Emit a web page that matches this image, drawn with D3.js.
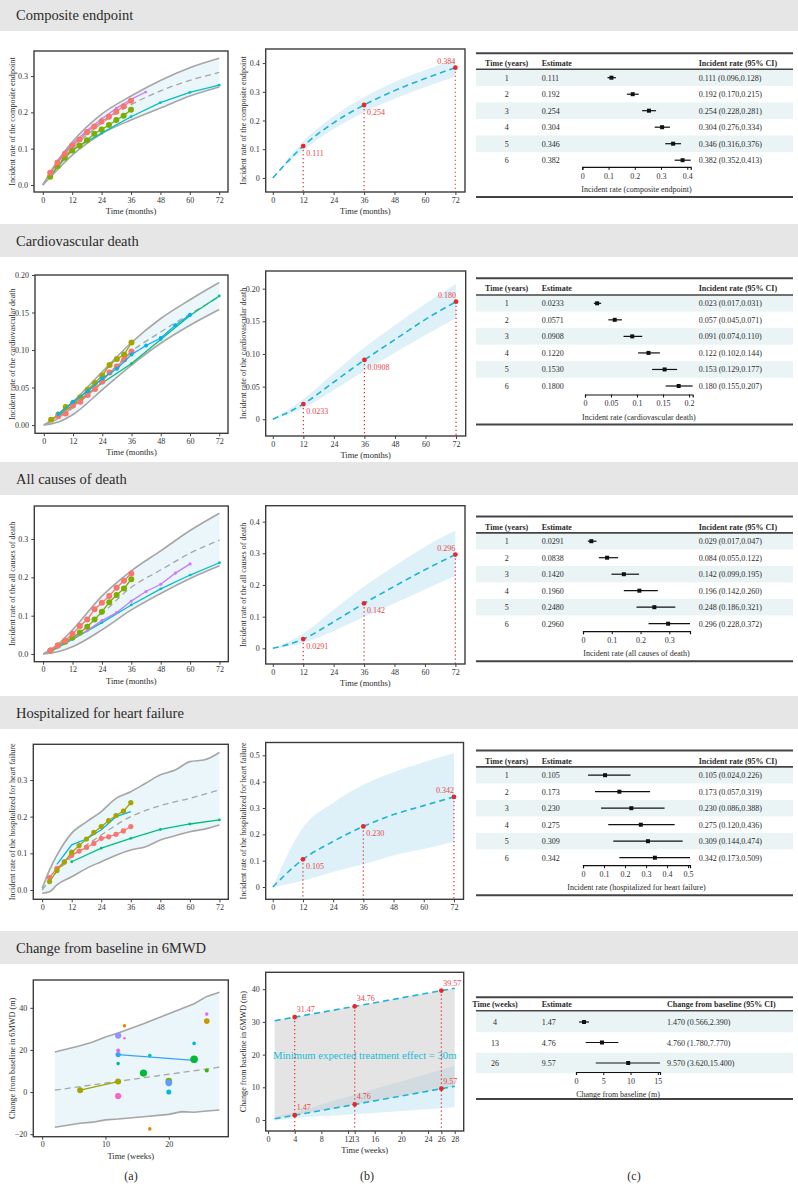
<!DOCTYPE html>
<html>
<head>
<meta charset="utf-8">
<script src="https://cdn.jsdelivr.net/npm/d3@7"></script>
<style>
  body { margin: 0; background: #fff; }
  svg { display: block; }
  text { font-family: "Liberation Serif", "DejaVu Serif", serif; fill: #2b2b2b; }
</style>
</head>
<body>
<script>

/*****************************************/
/*                 DATA                  */
/*****************************************/

const monthTicks = [0, 12, 24, 36, 48, 60, 72];
const bMonths = [0, 12, 24, 36, 48, 60, 72];
const bLabelMonths = [12, 36, 72];
const yearRows = [1, 2, 3, 4, 5, 6];

// composite endpoint - panel (a) [month, rate]
const compUpper = [[0,0],[6,0.066],[12,0.118],[24,0.195],[36,0.245],[48,0.288],[60,0.323],[72,0.349]];
const compLower = [[0,0],[6,0.042],[12,0.082],[24,0.141],[36,0.179],[48,0.212],[60,0.245],[72,0.27]];
const compMid = [[0,0],[6,0.055],[12,0.1],[24,0.17],[36,0.221],[48,0.259],[60,0.288],[72,0.31]];
const compRed = [[3,0.034],[6,0.062],[9,0.086],[12,0.109],[15,0.125],[18,0.145],[21,0.161],[24,0.175],[27,0.188],[30,0.202],[33,0.217],[36,0.232]];
const compGreen = [[3,0.023],[6,0.052],[9,0.075],[12,0.095],[15,0.108],[18,0.123],[21,0.141],[24,0.153],[27,0.165],[30,0.179],[33,0.191],[36,0.207]];
const compPurple = [[3,0.03],[6,0.065],[12,0.112],[18,0.15],[24,0.182],[30,0.211],[36,0.236],[42,0.256]];
const compCyan = [[3,0.025],[12,0.097],[24,0.143],[36,0.188],[48,0.227],[60,0.255],[72,0.275]];
// composite endpoint - panel (b) and table
const compCurve = [0, 0.111, 0.192, 0.254, 0.304, 0.346, 0.384];
const compLabels = ["0.111", "0.254", "0.384"];
const compEst = [0.111, 0.192, 0.254, 0.304, 0.346, 0.382];
const compLo = [0.096, 0.170, 0.228, 0.276, 0.316, 0.352];
const compHi = [0.128, 0.215, 0.281, 0.334, 0.376, 0.413];

// cardiovascular death
const cvUpper = [[0,0],[6,0.013],[12,0.031],[24,0.071],[36,0.11],[48,0.142],[60,0.167],[72,0.19]];
const cvLower = [[0,0],[6,0.004],[12,0.014],[24,0.047],[36,0.08],[48,0.109],[60,0.133],[72,0.154]];
const cvMid = [[0,0],[6,0.009],[12,0.023],[24,0.06],[36,0.098],[48,0.124],[60,0.148],[72,0.171]];
const cvOlive = [[3,0.007],[6,0.014],[9,0.024],[12,0.029],[15,0.037],[18,0.047],[21,0.056],[24,0.066],[27,0.08],[30,0.088],[33,0.094],[36,0.11]];
const cvRed = [[6,0.012],[9,0.0155],[12,0.026],[15,0.031],[18,0.04],[21,0.048],[24,0.058],[27,0.07],[30,0.078],[33,0.0875],[36,0.098]];
const cvGreen = [[6,0.012],[12,0.027],[24,0.056],[36,0.082],[48,0.114],[60,0.146],[72,0.172]];
const cvBlue = [[6,0.0147],[12,0.031],[18,0.045],[24,0.062],[30,0.075],[36,0.094],[42,0.106],[48,0.116],[54,0.133],[60,0.147]];
const cvCurve = [0, 0.0233, 0.0571, 0.0908, 0.122, 0.153, 0.180];
const cvLabels = ["0.0233", "0.0908", "0.180"];
const cvEst = [0.0233, 0.0571, 0.0908, 0.1220, 0.1530, 0.1800];
const cvLo = [0.017, 0.045, 0.074, 0.102, 0.129, 0.155];
const cvHi = [0.031, 0.071, 0.110, 0.144, 0.177, 0.207];

// all causes of death
const acUpper = [[0,0],[6,0.025],[12,0.063],[24,0.151],[36,0.217],[48,0.269],[60,0.322],[72,0.367]];
const acLower = [[0,0],[6,0.006],[12,0.019],[24,0.063],[36,0.115],[48,0.158],[60,0.197],[72,0.23]];
const acMid = [[0,0],[6,0.016],[12,0.042],[24,0.105],[36,0.174],[48,0.219],[60,0.263],[72,0.297]];
const acRed = [[3,0.009],[6,0.022],[9,0.035],[12,0.052],[15,0.073],[18,0.09],[21,0.117],[24,0.134],[27,0.151],[30,0.173],[33,0.191],[36,0.21]];
const acGreen = [[3,0.009],[6,0.022],[9,0.032],[12,0.043],[15,0.056],[18,0.071],[21,0.09],[24,0.11],[27,0.135],[30,0.154],[33,0.171],[36,0.195]];
const acPurple = [[6,0.022],[12,0.041],[18,0.061],[24,0.087],[30,0.108],[36,0.138],[42,0.163],[48,0.182],[54,0.211],[60,0.235]];
const acCyan = [[3,0.008],[12,0.038],[24,0.082],[36,0.128],[48,0.17],[60,0.206],[72,0.238]];
const acCurve = [0, 0.0291, 0.0838, 0.142, 0.196, 0.248, 0.296];
const acLabels = ["0.0291", "0.142", "0.296"];
const acEst = [0.0291, 0.0838, 0.1420, 0.1960, 0.2480, 0.2960];
const acLo = [0.017, 0.055, 0.099, 0.142, 0.186, 0.228];
const acHi = [0.047, 0.122, 0.195, 0.260, 0.321, 0.372];

// hospitalized for heart failure
const hfUpper = [[0,0.004],[3,0.055],[6,0.095],[12,0.155],[18,0.186],[24,0.214],[30,0.25],[36,0.268],[42,0.291],[48,0.314],[54,0.327],[60,0.35],[66,0.355],[72,0.375]];
const hfLower = [[0,-0.009],[3,-0.005],[6,0.014],[12,0.036],[18,0.059],[24,0.077],[30,0.095],[36,0.109],[42,0.118],[48,0.136],[54,0.148],[60,0.159],[66,0.166],[72,0.177]];
const hfMid = [[0,0],[6,0.05],[12,0.09],[24,0.15],[36,0.2],[48,0.23],[60,0.25],[72,0.273]];
const hfOlive = [[3,0.023],[6,0.053],[9,0.076],[12,0.103],[15,0.121],[18,0.139],[21,0.157],[24,0.173],[27,0.189],[30,0.203],[33,0.215],[36,0.238]];
const hfRed = [[3,0.034],[6,0.059],[9,0.077],[12,0.095],[15,0.106],[18,0.116],[21,0.127],[24,0.141],[27,0.145],[30,0.152],[33,0.161],[36,0.173]];
const hfGreen = [[12,0.077],[24,0.114],[36,0.141],[48,0.165],[60,0.18],[72,0.191]];
const hfBlue = [[6,0.07],[12,0.123],[18,0.139],[24,0.164],[30,0.2],[36,0.214]];
const hfCurve = [0, 0.105, 0.173, 0.230, 0.275, 0.309, 0.342];
const hfLabels = ["0.105", "0.230", "0.342"];
const hfEst = [0.105, 0.173, 0.230, 0.275, 0.309, 0.342];
const hfLo = [0.024, 0.057, 0.086, 0.120, 0.144, 0.173];
const hfHi = [0.226, 0.319, 0.388, 0.436, 0.474, 0.509];

// change from baseline in 6MWD - panel (a) [week, metres]
const mwdUpper = [[2,19],[6,22],[8,23.8],[10,26.1],[12,28],[16,32.4],[20,37.2],[22,39.5],[24,41.9],[26,45.4],[28,47.4]];
const mwdLower = [[2,-16.7],[6,-14.8],[8,-14.3],[10,-13.2],[12,-12.8],[16,-11.7],[20,-10.6],[22,-9.3],[24,-9.6],[26,-9],[28,-8.5]];
const mwdMid = [[2,0.9],[28,11.8]];
const mwdOlive = [[6,0.9],[12,5]];
const mwdBlue = [[12,17.8],[24,15]];
const studyWeeks = [13, 12, 13, 12, 12, 17, 16, 20, 20, 20, 12, 17, 24, 24, 26, 26, 26];
const studyValues = [31.5, 26.8, 25.5, 19.7, 13.5, 17.3, 9.0, 5.2, 4.4, 0.0, -1.9, -17.5, 23.1, 15.6, 37.0, 33.7, 10.2];
const studySizes = [20, 60, 10, 25, 20, 20, 80, 70, 70, 40, 60, 20, 20, 90, 20, 50, 25];
// panel (b)
const mwdLineWeeks = [1, 4, 13, 26, 28];
const mwdLine = [0.37, 1.47, 4.76, 9.57, 10.3];
const mwdTarget = [30.37, 31.47, 34.76, 39.57, 40.3];
const mwdBandLo = [-0.2, 0.566, 1.78, 3.62, 3.9];
const mwdBandHi = [0.9, 2.39, 7.77, 15.4, 16.6];
// table
const weekRows = [4, 13, 26];
const mwdEst = [1.47, 4.76, 9.57];
const mwdLo = [0.566, 1.780, 3.620];
const mwdHi = [2.390, 7.770, 15.400];

/*****************************************/
/*                 SETUP                 */
/*****************************************/

const GRAY = "#a6a6a6", RIB_A = "#eaf6fa", RIB_B = "#def1f8", CYAN = "#1db5d1";
const RED = "#e8262c", RED_TXT = "#e8474b", FRAME = "#3c3c3c";

let svg = d3.select("body").append("svg")
    .attr("width", 798)
    .attr("height", 1189);

// SECTION BANDS
const bands = [[-2, 31, "Composite endpoint"], [224, 257, "Cardiovascular death"],
               [462, 495, "All causes of death"], [696, 729, "Hospitalized for heart failure"],
               [931, 964, "Change from baseline in 6MWD"]];

bands.forEach(b => {
    svg.append("rect").attr("x", 0).attr("y", b[0]).attr("width", 798).attr("height", b[1] - b[0])
        .attr("fill", "#e6e6e6");
    svg.append("text").attr("x", 16).attr("y", (b[0] + b[1]) / 2 + 5)
        .attr("font-size", 14.5).text(b[2]);
});

function makeAxes(fr, x, y, xTicks, yTicks, yFmt, xTitle, yTitle, titleX) {
    let xa = svg.append("g")
        .attr("transform", "translate(0," + fr.b + ")")
        .call(d3.axisBottom(x).tickValues(xTicks).tickSize(3).tickPadding(2).tickFormat(d3.format("d")));
    let ya = svg.append("g")
        .attr("transform", "translate(" + fr.l + ",0)")
        .call(d3.axisLeft(y).tickValues(yTicks).tickSize(3).tickPadding(3).tickFormat(yFmt));
    [xa, ya].forEach(a => {
        a.attr("font-family", null).attr("font-size", 8);
        a.select(".domain").remove();
        a.selectAll(".tick line").attr("stroke", "#444");
        a.selectAll(".tick text").style("fill", "#333");
    });
    if (xTitle) {
        svg.append("text").attr("x", (fr.l + fr.r) / 2).attr("y", fr.b + 22)
            .attr("text-anchor", "middle").attr("font-size", 8.5).text(xTitle);
    }
    svg.append("text")
        .attr("transform", "translate(" + titleX + "," + (fr.t + fr.b) / 2 + ") rotate(-90)")
        .attr("text-anchor", "middle").attr("dy", "0.35em").attr("font-size", 8.2).text(yTitle);
    svg.append("rect").attr("x", fr.l).attr("y", fr.t).attr("width", fr.r - fr.l).attr("height", fr.b - fr.t)
        .attr("fill", "none").attr("stroke", FRAME).attr("stroke-width", 1.4);
}

/*****************************************/
/*        PANEL (a): STUDY CURVES        */
/*****************************************/

function drawPanelA(p) {
    let x = d3.scaleLinear().domain(p.xDomain).range([p.fr.l, p.fr.r]);
    let y = d3.scaleLinear().domain(p.yDomain).range([p.fr.b, p.fr.t]);
    let smooth = p.curve || d3.curveMonotoneX;

    let area = d3.area().curve(smooth)
        .x(d => x(d[0]))
        .y0((d, i) => y(p.lower[i][1]))
        .y1(d => y(d[1]));
    svg.append("path").datum(p.upper).attr("d", area).attr("fill", RIB_A);

    let line = d3.line().curve(smooth).x(d => x(d[0])).y(d => y(d[1]));
    [p.upper, p.lower].forEach(s => {
        svg.append("path").datum(s).attr("d", line)
            .attr("fill", "none").attr("stroke", GRAY).attr("stroke-width", 1.6);
    });
    svg.append("path").datum(p.mid).attr("d", line)
        .attr("fill", "none").attr("stroke", GRAY).attr("stroke-width", 1.3).attr("stroke-dasharray", "6,4");

    let straight = d3.line().x(d => x(d[0])).y(d => y(d[1]));
    p.series.forEach(s => {
        svg.append("path").datum(s.data).attr("d", straight)
            .attr("fill", "none").attr("stroke", s.color).attr("stroke-width", 1.3);
        svg.selectAll(null).data(s.data).enter().append("circle")
            .attr("cx", d => x(d[0])).attr("cy", d => y(d[1])).attr("r", s.r)
            .attr("fill", s.color);
    });

    if (p.extra) p.extra(x, y);

    makeAxes(p.fr, x, y, p.xTicks, p.yTicks, p.yFmt, p.xTitle, p.yTitle, 12);
}

/*****************************************/
/*      PANEL (b): POOLED ESTIMATES      */
/*****************************************/

function drawPanelB(p) {
    let x = d3.scaleLinear().domain([-2.8, 75.8]).range([p.fr.l, p.fr.r]);
    let y = d3.scaleLinear().domain(p.yDomain).range([p.fr.b, p.fr.t]);
    let lo = [0].concat(p.lo), hi = [0].concat(p.hi);

    let area = d3.area().curve(d3.curveMonotoneX)
        .x((d, i) => x(bMonths[i]))
        .y0((d, i) => y(lo[i]))
        .y1((d, i) => y(hi[i]));
    svg.append("path").datum(bMonths).attr("d", area).attr("fill", RIB_B);

    let line = d3.line().curve(d3.curveMonotoneX).x((d, i) => x(bMonths[i])).y(d => y(d));
    svg.append("path").datum(p.curve).attr("d", line)
        .attr("fill", "none").attr("stroke", CYAN).attr("stroke-width", 1.6).attr("stroke-dasharray", "6,4");

    bLabelMonths.forEach((m, i) => {
        let v = p.curve[bMonths.indexOf(m)];
        svg.append("line").attr("x1", x(m)).attr("x2", x(m)).attr("y1", y(v)).attr("y2", p.fr.b)
            .attr("stroke", RED).attr("stroke-width", 1.2).attr("stroke-dasharray", "1.2,2.8");
        svg.append("circle").attr("cx", x(m)).attr("cy", y(v)).attr("r", 2.4).attr("fill", RED);
        let last = i === bLabelMonths.length - 1;
        svg.append("text")
            .attr("x", last ? x(m) : x(m) + 3)
            .attr("y", last ? y(v) - 4 : y(v) + 10)
            .attr("text-anchor", last ? "end" : "start")
            .attr("font-size", 8).style("fill", RED_TXT).text(p.labels[i]);
    });

    makeAxes(p.fr, x, y, monthTicks, p.yTicks, p.yFmt, p.xTitle, p.yTitle, 243);
}

/*****************************************/
/*          PANEL (c): FOREST TABLE      */
/*****************************************/

function drawTable(t) {
    let x0 = 476, x1 = 793;
    let rowY = i => t.y0 + t.first + i * t.rowH;
    let n = t.rows.length;
    let fx = d3.scaleLinear().domain([0, d3.max(t.hi)]).range(t.fx);

    t.rows.forEach((r, i) => {
        if (i % 2 === 0) {
            svg.append("rect").attr("x", x0).attr("y", rowY(i) - t.rowH / 2)
                .attr("width", x1 - x0).attr("height", t.rowH).attr("fill", "#eaf4f5");
        }
    });

    svg.append("line").attr("x1", x0).attr("x2", x1).attr("y1", t.y0).attr("y2", t.y0)
        .attr("stroke", "#444").attr("stroke-width", 2);
    svg.append("line").attr("x1", x0).attr("x2", x1).attr("y1", t.y0 + t.headLine).attr("y2", t.y0 + t.headLine)
        .attr("stroke", "#444").attr("stroke-width", 1.6);

    let head = t.y0 + t.headText;
    svg.append("text").attr("x", t.timeX).attr("y", head).attr("text-anchor", "middle")
        .attr("font-size", 8).attr("font-weight", "bold").text(t.heads[0]);
    svg.append("text").attr("x", 541.7).attr("y", head)
        .attr("font-size", 8).attr("font-weight", "bold").text(t.heads[1]);
    svg.append("text").attr("x", t.ciX).attr("y", head)
        .attr("font-size", 8).attr("font-weight", "bold").text(t.heads[2]);

    let f3 = d3.format(".3f");
    t.rows.forEach((r, i) => {
        let cy = rowY(i);
        svg.append("text").attr("x", t.timeX).attr("y", cy + 3).attr("text-anchor", "middle")
            .attr("font-size", 8).text(r);
        svg.append("text").attr("x", 541.7).attr("y", cy + 3)
            .attr("font-size", 8).text(d3.format(t.estFmt)(t.est[i]));
        svg.append("text").attr("x", t.ciX).attr("y", cy + 3).attr("font-size", 8)
            .text(f3(t.est[i]) + " (" + f3(t.lo[i]) + "," + f3(t.hi[i]) + ")");
        svg.append("line").attr("x1", fx(t.lo[i])).attr("x2", fx(t.hi[i])).attr("y1", cy).attr("y2", cy)
            .attr("stroke", "#111").attr("stroke-width", 1.2);
        svg.append("rect").attr("x", fx(t.est[i]) - 2).attr("y", cy - 2).attr("width", 4).attr("height", 4)
            .attr("fill", "#111");
    });

    let ay = rowY(n - 1) + t.axisGap;
    let ax = svg.append("g").attr("transform", "translate(0," + ay + ")")
        .call(d3.axisBottom(fx).tickValues(t.ticks).tickSize(3).tickSizeOuter(3).tickPadding(3)
            .tickFormat(d => d === 0 ? "0" : String(d)));
    ax.attr("font-family", null).attr("font-size", 8);
    ax.select(".domain").attr("stroke", "#111").attr("stroke-width", 1.2);
    ax.selectAll(".tick line").attr("stroke", "#111");
    ax.selectAll(".tick text").style("fill", "#333");

    svg.append("text").attr("x", (t.fx[0] + fx(d3.max(t.hi))) / 2).attr("y", ay + 25)
        .attr("text-anchor", "middle").attr("font-size", 8).text(t.axisTitle);
    svg.append("line").attr("x1", x0).attr("x2", x1).attr("y1", ay + t.bottomGap).attr("y2", ay + t.bottomGap)
        .attr("stroke", "#444").attr("stroke-width", 2);
}

/*****************************************/
/*              DRAW SECTIONS            */
/*****************************************/

const fmt1 = d => d === 0 ? "0.0" : d3.format(".1f")(d);
const fmt2 = d => d3.format(".2f")(d);
const fmtB = d => d === 0 ? "0" : String(d);
const fmtB2 = d => d === 0 ? "0" : d3.format(".2f")(d);
const aX = [-3.6, 75.6];
const yearHeads = ["Time (years)", "Estimate", "Incident rate (95% CI)"];

// 1. COMPOSITE ENDPOINT
drawPanelA({
    fr: {l: 34, r: 228, t: 51, b: 192}, xDomain: aX, yDomain: [-0.0193, 0.369],
    upper: compUpper, lower: compLower, mid: compMid,
    series: [{data: compCyan, color: "#00BFC4", r: 1.4}, {data: compPurple, color: "#C77CFF", r: 1.4},
             {data: compGreen, color: "#7CAE00", r: 3}, {data: compRed, color: "#F8766D", r: 3}],
    xTicks: monthTicks, yTicks: [0, 0.1, 0.2, 0.3], yFmt: fmt1,
    xTitle: "Time (months)", yTitle: "Incident rate of the composite endpoint"
});
drawPanelB({
    fr: {l: 265.7, r: 465, t: 49, b: 192}, yDomain: [-0.049, 0.449],
    curve: compCurve, lo: compLo, hi: compHi, labels: compLabels,
    yTicks: [0, 0.1, 0.2, 0.3, 0.4], yFmt: fmtB,
    xTitle: "Time (months)", yTitle: "Incident rate of the composite endpoint"
});
drawTable({
    y0: 53.3, first: 24.4, rowH: 16.5, headText: 13, headLine: 16, axisGap: 6.7, bottomGap: 30,
    timeX: 506.7, ciX: 698.7, fx: [582.3, 690.7], heads: yearHeads,
    rows: yearRows, est: compEst, lo: compLo, hi: compHi, estFmt: ".3f",
    ticks: [0, 0.1, 0.2, 0.3, 0.4], axisTitle: "Incident rate (composite endpoint)"
});

// 2. CARDIOVASCULAR DEATH
drawPanelA({
    fr: {l: 35, r: 228, t: 275, b: 433.3}, xDomain: aX, yDomain: [-0.011, 0.2],
    upper: cvUpper, lower: cvLower, mid: cvMid,
    series: [{data: cvGreen, color: "#00BF7D", r: 1.4}, {data: cvOlive, color: "#A3A500", r: 3},
             {data: cvRed, color: "#F8766D", r: 3}, {data: cvBlue, color: "#00B0F6", r: 2}],
    xTicks: monthTicks, yTicks: [0, 0.05, 0.1, 0.15, 0.2], yFmt: fmt2,
    xTitle: "Time (months)", yTitle: "Incident rate of the cardiovascular death"
});
drawPanelB({
    fr: {l: 265.7, r: 465.7, t: 271, b: 436}, yDomain: [-0.0256, 0.227],
    curve: cvCurve, lo: cvLo, hi: cvHi, labels: cvLabels,
    yTicks: [0, 0.05, 0.1, 0.15, 0.2], yFmt: fmtB2,
    xTitle: "Time (months)", yTitle: "Incident rate of the cardiovascular death"
});
drawTable({
    y0: 278.3, first: 25, rowH: 16.54, headText: 12.5, headLine: 16.7, axisGap: 8.5, bottomGap: 30,
    timeX: 506.7, ciX: 698.7, fx: [585, 692.7], heads: yearHeads,
    rows: yearRows, est: cvEst, lo: cvLo, hi: cvHi, estFmt: ".4f",
    ticks: [0, 0.05, 0.1, 0.15, 0.2], axisTitle: "Incident rate (cardiovascular death)"
});

// 3. ALL CAUSES OF DEATH
drawPanelA({
    fr: {l: 34.3, r: 228.3, t: 506, b: 661.7}, xDomain: aX, yDomain: [-0.02, 0.386],
    upper: acUpper, lower: acLower, mid: acMid,
    series: [{data: acCyan, color: "#00BFC4", r: 1.4}, {data: acPurple, color: "#C77CFF", r: 1.6},
             {data: acGreen, color: "#7CAE00", r: 3}, {data: acRed, color: "#F8766D", r: 3}],
    xTicks: monthTicks, yTicks: [0, 0.1, 0.2, 0.3], yFmt: fmt1,
    xTitle: "Time (months)", yTitle: "Incident rate of the all causes of death"
});
drawPanelB({
    fr: {l: 265.7, r: 465, t: 505.7, b: 664}, yDomain: [-0.0496, 0.4503],
    curve: acCurve, lo: acLo, hi: acHi, labels: acLabels,
    yTicks: [0, 0.1, 0.2, 0.3, 0.4], yFmt: fmtB,
    xTitle: "Time (months)", yTitle: "Incident rate of the all causes of death"
});
drawTable({
    y0: 516.5, first: 24.7, rowH: 16.5, headText: 13, headLine: 16.4, axisGap: 7.5, bottomGap: 30,
    timeX: 506.7, ciX: 698.7, fx: [583, 690], heads: yearHeads,
    rows: yearRows, est: acEst, lo: acLo, hi: acHi, estFmt: ".4f",
    ticks: [0, 0.1, 0.2, 0.3], axisTitle: "Incident rate (all causes of death)"
});

// 4. HOSPITALIZED FOR HEART FAILURE
drawPanelA({
    fr: {l: 33.3, r: 228.3, t: 744.3, b: 899.3}, xDomain: aX, yDomain: [-0.0254, 0.3973],
    upper: hfUpper, lower: hfLower, mid: hfMid,
    series: [{data: hfGreen, color: "#00BF7D", r: 1.4}, {data: hfBlue, color: "#00B0F6", r: 0},
             {data: hfRed, color: "#F8766D", r: 2.6}, {data: hfOlive, color: "#A3A500", r: 2.6}],
    xTicks: monthTicks, yTicks: [0, 0.1, 0.2, 0.3], yFmt: fmt1,
    xTitle: null, yTitle: "Incident rate of the hospitalized for heart failure"
});
drawPanelB({
    fr: {l: 265.7, r: 463.5, t: 742.5, b: 899.3}, yDomain: [-0.0467, 0.5487],
    curve: hfCurve, lo: hfLo, hi: hfHi, labels: hfLabels,
    yTicks: [0, 0.1, 0.2, 0.3, 0.4, 0.5], yFmt: fmtB,
    xTitle: null, yTitle: "Incident rate of the hospitalized for heart failure"
});
drawTable({
    y0: 750.5, first: 24.7, rowH: 16.5, headText: 13, headLine: 16.4, axisGap: 7.5, bottomGap: 30,
    timeX: 506.7, ciX: 698.7, fx: [583, 690], heads: yearHeads,
    rows: yearRows, est: hfEst, lo: hfLo, hi: hfHi, estFmt: ".3f",
    ticks: [0, 0.1, 0.2, 0.3, 0.4, 0.5], axisTitle: "Incident rate (hospitalized for heart failure)"
});

// 5. CHANGE FROM BASELINE IN 6MWD
const studyColors = ["#E58700", "#9590FF", "#E76BF3", "#DE6FE8", "#00C08B", "#00C1AA", "#00BA38",
                     "#7CAE00", "#619CFF", "#00BCD8", "#FF61C3", "#E58700", "#00B4F0", "#00BA38",
                     "#E76BF3", "#C99800", "#39B600"];
let sizeScale = d3.scaleSqrt().domain([0, 90]).range([0, 3.8]);

drawPanelA({
    fr: {l: 33.3, r: 228.3, t: 980, b: 1136.7}, xDomain: [-1.4, 29.4], yDomain: [-21.2, 53.2],
    curve: d3.curveLinear,
    upper: mwdUpper, lower: mwdLower, mid: mwdMid,
    series: [{data: mwdOlive, color: "#A3A500", r: 3}, {data: mwdBlue, color: "#35A2FF", r: 2.6}],
    xTicks: [0, 10, 20], yTicks: [-20, 0, 20, 40], yFmt: d => d < 0 ? "\u2212" + Math.abs(d) : String(d),
    xTitle: "Time (weeks)", yTitle: "Change from baseline in 6MWD (m)",
    extra: (x, y) => {
        svg.selectAll(null).data(studyWeeks).enter().append("circle")
            .attr("cx", d => x(d))
            .attr("cy", (d, i) => y(studyValues[i]))
            .attr("r", (d, i) => sizeScale(studySizes[i]))
            .attr("fill", (d, i) => studyColors[i]);
    }
});

// panel (b) for 6MWD
(function () {
    let fr = {l: 265.7, r: 463.7, t: 972.3, b: 1131};
    let x = d3.scaleLinear().domain([-0.35, 29.35]).range([fr.l, fr.r]);
    let y = d3.scaleLinear().domain([-3.36, 45.17]).range([fr.b, fr.t]);

    let band = d3.area().x((d, i) => x(d)).y0((d, i) => y(mwdBandLo[i])).y1((d, i) => y(mwdBandHi[i]))
        .curve(d3.curveMonotoneX);
    svg.append("path").datum(mwdLineWeeks).attr("d", band).attr("fill", RIB_B);

    let gap = d3.area().x(d => x(d)).y0((d, i) => y(mwdLine[i])).y1((d, i) => y(mwdTarget[i]));
    svg.append("path").datum(mwdLineWeeks).attr("d", gap).attr("fill", "#c4c4c4").attr("opacity", 0.45);

    let line = d3.line().x(d => x(d));
    [mwdLine, mwdTarget].forEach(s => {
        svg.append("path").datum(mwdLineWeeks).attr("d", line.y((d, i) => y(s[i])))
            .attr("fill", "none").attr("stroke", CYAN).attr("stroke-width", 1.6).attr("stroke-dasharray", "6,4");
    });

    svg.append("text").attr("x", 364.7).attr("y", 1059).attr("text-anchor", "middle")
        .attr("font-size", 10.7).style("fill", "#22bcd6").text("Minimum expected treatment effect = 30m");

    weekRows.forEach((w, i) => {
        svg.append("line").attr("x1", x(w)).attr("x2", x(w)).attr("y1", y(mwdTarget[i + 1])).attr("y2", fr.b)
            .attr("stroke", RED).attr("stroke-width", 1.2).attr("stroke-dasharray", "1.2,2.8");
        [mwdLine[i + 1], mwdTarget[i + 1]].forEach(v => {
            svg.append("circle").attr("cx", x(w)).attr("cy", y(v)).attr("r", 2.4).attr("fill", RED);
            svg.append("text").attr("x", x(w) + 2).attr("y", y(v) - 5)
                .attr("font-size", 8).style("fill", RED_TXT).text(d3.format(".2f")(v));
        });
    });

    makeAxes(fr, x, y, [0, 4, 8, 12, 13, 16, 20, 24, 26, 28], [0, 10, 20, 30, 40], String,
        "Time (weeks)", "Change from baseline in 6MWD (m)", 243);
})();

drawTable({
    y0: 997.3, first: 24.7, rowH: 20.5, headText: 9.5, headLine: 13.4, axisGap: 9, bottomGap: 27,
    timeX: 495, ciX: 667, fx: [576, 660], heads: ["Time (weeks)", "Estimate", "Change from baseline (95% CI)"],
    rows: weekRows, est: mwdEst, lo: mwdLo, hi: mwdHi, estFmt: ".2f",
    ticks: [0, 5, 10, 15], axisTitle: "Change from baseline (m)"
});

// PANEL LETTERS
[["(a)", 131], ["(b)", 367], ["(c)", 634]].forEach(l => {
    svg.append("text").attr("x", l[1]).attr("y", 1180).attr("text-anchor", "middle")
        .attr("font-size", 12).text(l[0]);
});

</script>
</body>
</html>
